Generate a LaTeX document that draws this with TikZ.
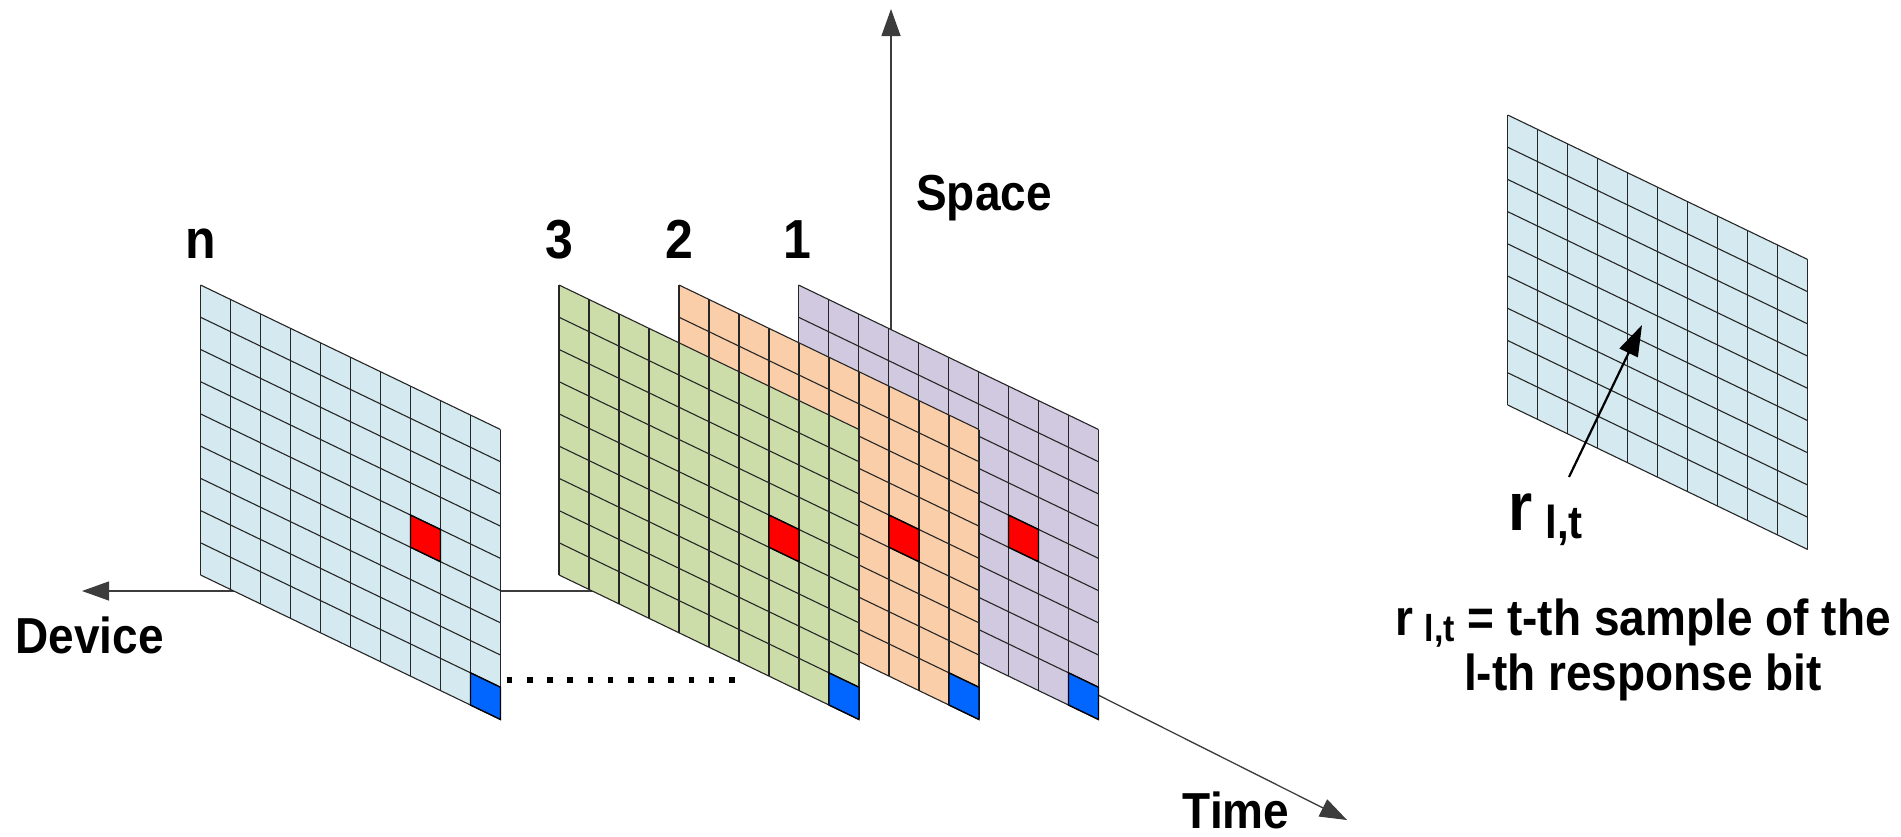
\documentclass[tikz,border=0pt]{standalone}
\usepackage{fontspec}
\setmainfont{Liberation Sans}
\usetikzlibrary{arrows.meta}
\definecolor{pblue}{RGB}{212,234,240}
\definecolor{pgreen}{RGB}{205,221,170}
\definecolor{porange}{RGB}{250,206,168}
\definecolor{ppurple}{RGB}{209,201,223}
\definecolor{cred}{RGB}{255,0,0}
\definecolor{cblue}{RGB}{0,102,255}
\definecolor{axcol}{RGB}{60,60,60}
\newcommand\vstr[1]{\scalebox{1}[1.1]{#1}}
\tikzset{
  gl/.style={draw=black!85, line width=1.1pt},
  markcell/.style={draw=black, line width=1.4pt},
  lab/.style={font=\fontsize{50}{60}\selectfont\bfseries, inner sep=0pt, anchor=base},
  axlab/.style={font=\fontsize{46}{55}\selectfont\bfseries, inner sep=0pt, anchor=base},
  axisline/.style={draw=axcol, line width=1.3pt, -{Triangle[length=27pt,width=19pt]}},
  ptr/.style={draw=black, line width=2.2pt, -{Triangle[length=31pt,width=20pt]}},
}
\newcommand\gridpanel[5]{%
 \begin{scope}[shift={(#1,#2)}, x={(30pt,-14.45pt)}, y={(0pt,-32.22pt)}]
   \coordinate (#4) at (0,0);
   \fill[#3] (0,0) -- (10,0) -- (10,9) -- (0,9) -- cycle;
   \foreach \i in {0,...,10} \draw[gl] (\i,0) -- (\i,9);
   \foreach \j in {0,...,9} \draw[gl] (0,\j) -- (10,\j);
   \ifnum#5=1
     \filldraw[fill=cred, markcell] (7,4) -- (8,4) -- (8,5) -- (7,5) -- cycle;
     \filldraw[fill=cblue, markcell] (9,8) -- (10,8) -- (10,9) -- (9,9) -- cycle;
   \fi
 \end{scope}}
\begin{document}
\begin{tikzpicture}[x=1pt,y=-1pt]
\useasboundingbox (0,0) rectangle (1901,836);
% axes
\coordinate (O) at (891,591);
\coordinate (spacetip) at (891,9);
\coordinate (devtip) at (82,591);
\coordinate (timetip) at (1347,820);
\draw[axisline] (O) -- (spacetip);
\draw[axisline] (O) -- (devtip);
\draw[axisline] (O) -- (timetip);
% panels, back to front
\gridpanel{798.5}{285}{ppurple}{p1}{1}
\gridpanel{679}{285}{porange}{p2}{1}
\gridpanel{559}{285}{pgreen}{p3}{1}
\gridpanel{200.5}{285}{pblue}{pn}{1}
\gridpanel{1507.7}{115}{pblue}{pr}{0}
% dots
\coordinate (dotA) at (506.7,680);
\coordinate (dotB) at (735,680);
\draw[line width=5.6pt, dash pattern=on 5.6pt off 14.6pt] (dotA) -- (dotB);
% labels
\node[lab] (ln) at (200.5,258) {\vstr{n}};
\node[lab] (l3) at (559.5,258) {\vstr{3}};
\node[lab] (l2) at (679.5,258) {\vstr{2}};
\node[lab] (l1) at (797,258) {\vstr{1}};
\node[axlab] (space) at (984,210) {\vstr{Space}};
\node[axlab, anchor=base east] (device) at (164,653) {\vstr{Device}};
\node[axlab] (time) at (1236,828) {\vstr{Time}};
% r_lt label and pointer
\node[anchor=base west, inner sep=0pt, font=\bfseries] (rlt) at (1508,530)
  {\vstr{\fontsize{62}{70}\selectfont r\hspace{13pt}\raisebox{-8pt}{\fontsize{42}{50}\selectfont l,t}}};
\coordinate (ra) at (1569,477);
\coordinate (rb) at (1642,325);
\draw[ptr] (ra) -- (rb);
% definition
\node[axlab] (def1) at (1643,635)
  {\vstr{r\hspace{0.25em}\raisebox{-6pt}{\fontsize{34}{40}\selectfont l,t} = t-th sample of the}};
\node[axlab] (def2) at (1643,690) {\vstr{l-th response bit}};
\end{tikzpicture}
\end{document}
